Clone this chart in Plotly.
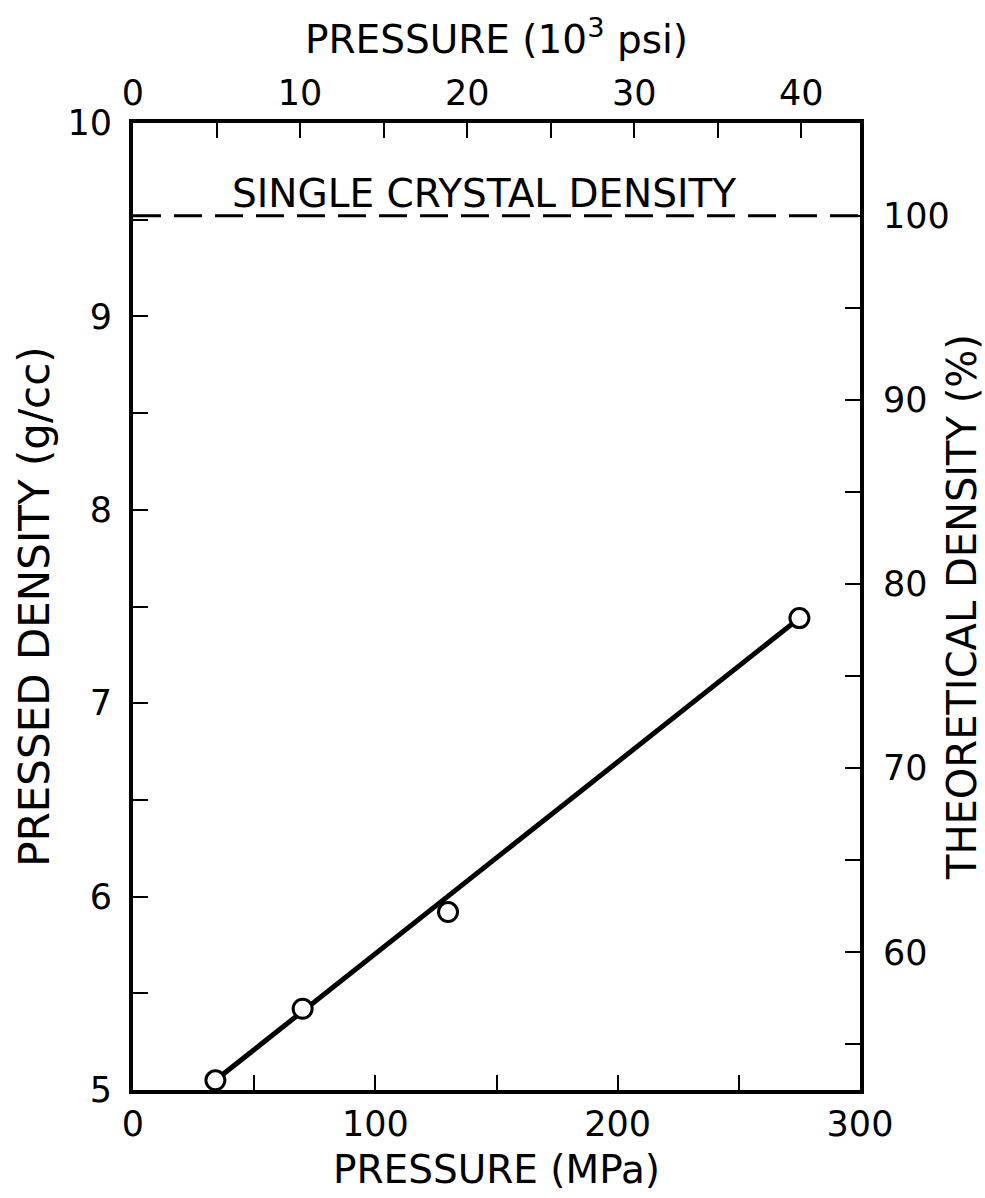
import plotly.graph_objects as go

# Compaction data: pressing pressure vs. green (pressed) density
pressure_mpa = [34, 70, 130, 275]
pressed_density = [5.05, 5.42, 5.92, 7.44]

# Straight-line fit drawn through the data
fit_pressure = [34, 275]
fit_density = [5.05, 7.44]

# Single crystal (theoretical) density, g/cc
single_crystal_density = 9.52
MPA_PER_KSI = 6.894757

x_range = [0, 300]
y_range = [5, 10]

# tick positions (major = labelled, minor = unlabelled)
mpa_major = [0, 100, 200, 300]
mpa_minor = [50, 150, 250]
gcc_major = [5, 6, 7, 8, 9, 10]
gcc_minor = [5.5, 6.5, 7.5, 8.5, 9.5]
ksi_major = [0, 10, 20, 30, 40]
ksi_minor = [5, 15, 25, 35]
pct_major = [60, 70, 80, 90, 100]
pct_minor = [55, 65, 75, 85, 95]

FONT = "DejaVu Sans"
INK = "black"

fig = go.Figure()

# fitted line
fig.add_trace(go.Scatter(
    x=fit_pressure, y=fit_density, mode="lines",
    line=dict(color=INK, width=5), showlegend=False, hoverinfo="skip",
))

# measured points (open circles)
fig.add_trace(go.Scatter(
    x=pressure_mpa, y=pressed_density, mode="markers",
    marker=dict(symbol="circle", size=19, color="white",
                line=dict(color=INK, width=3)),
    showlegend=False,
))

# single crystal density reference line
fig.add_trace(go.Scatter(
    x=x_range, y=[single_crystal_density] * 2, mode="lines",
    line=dict(color=INK, width=3, dash="28px,13px"),
    showlegend=False, hoverinfo="skip",
))

# invisible trace that carries the secondary (psi / % TD) axes
fig.add_trace(go.Scatter(
    x=[x_range[0] / MPA_PER_KSI], y=[y_range[0] / single_crystal_density * 100],
    xaxis="x2", yaxis="y2", mode="markers", marker=dict(opacity=0),
    showlegend=False, hoverinfo="skip",
))

fig.add_annotation(
    x=145, y=single_crystal_density, xref="x", yref="y",
    text="SINGLE CRYSTAL DENSITY", showarrow=False,
    yanchor="bottom", yshift=-2,
    font=dict(family=FONT, size=39, color=INK),
)

tickfont = dict(family=FONT, size=35, color=INK)
axis_common = dict(
    showgrid=False, zeroline=False, showline=True, linecolor=INK, linewidth=4,
    ticks="inside", ticklen=15, tickwidth=2, tickcolor=INK, tickfont=tickfont,
    automargin=False,
)


def minor_ticks(vals):
    return dict(tickvals=vals, ticks="inside", ticklen=15, tickwidth=2,
                tickcolor=INK, showgrid=False)


fig.update_layout(
    width=985, height=1198,
    margin=dict(l=133, r=125, t=123, b=108),
    paper_bgcolor="white", plot_bgcolor="white",
    xaxis=dict(
        range=x_range, tickvals=mpa_major, minor=minor_ticks(mpa_minor),
        title=dict(text="PRESSURE (MPa)", standoff=14,
                   font=dict(family=FONT, size=39, color=INK)),
        ticklabelstandoff=0,
        **axis_common,
    ),
    yaxis=dict(
        range=y_range, tickvals=gcc_major, minor=minor_ticks(gcc_minor),
        title=dict(text="PRESSED DENSITY (g/cc)", standoff=6,
                   font=dict(family=FONT, size=42, color=INK)),
        ticklabelstandoff=10,
        **axis_common,
    ),
    xaxis2=dict(
        overlaying="x", side="top",
        range=[x_range[0] / MPA_PER_KSI, x_range[1] / MPA_PER_KSI],
        tickvals=ksi_major, minor=minor_ticks(ksi_minor),
        title=dict(text="PRESSURE (10<sup>3</sup> psi)", standoff=8,
                   font=dict(family=FONT, size=39, color=INK)),
        ticklabelstandoff=0,
        **axis_common,
    ),
    yaxis2=dict(
        overlaying="y", side="right",
        range=[y_range[0] / single_crystal_density * 100,
               y_range[1] / single_crystal_density * 100],
        tickvals=pct_major, minor=minor_ticks(pct_minor),
        title=dict(text="THEORETICAL DENSITY (%)", standoff=26,
                   font=dict(family=FONT, size=40, color=INK)),
        ticklabelstandoff=12,
        **axis_common,
    ),
)

fig.write_html("out.html")
